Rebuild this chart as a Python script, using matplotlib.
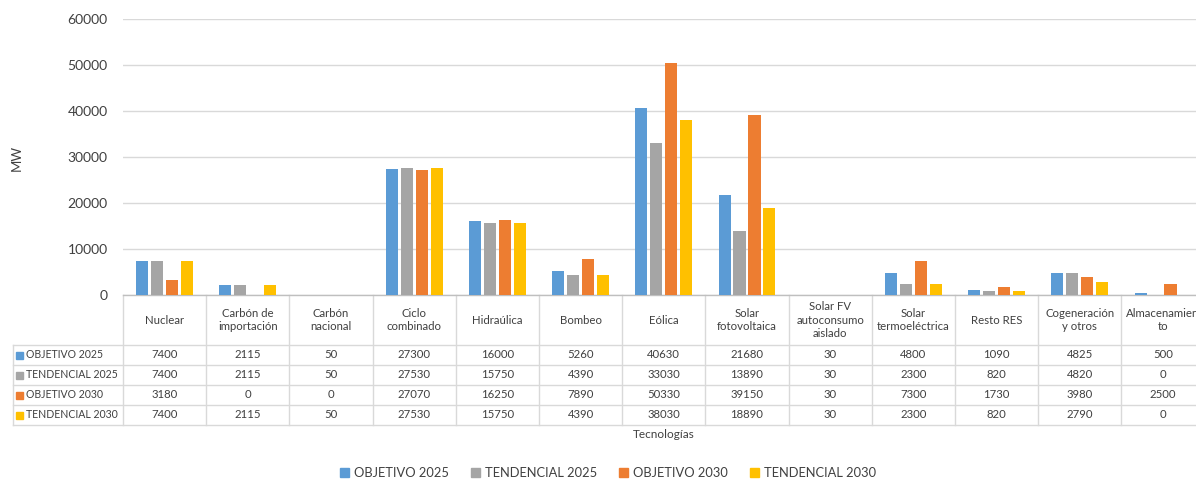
import matplotlib
matplotlib.use("Agg")
import matplotlib.pyplot as plt
from matplotlib.transforms import blended_transform_factory
from matplotlib.patches import Rectangle
import numpy as np

categories = ["Nuclear", "Carbón de\nimportación", "Carbón\nnacional", "Ciclo\ncombinado",
              "Hidraúlica", "Bombeo", "Eólica", "Solar\nfotovoltaica",
              "Solar FV\nautoconsumo\naislado", "Solar\ntermoeléctrica", "Resto RES",
              "Cogeneración\ny otros", "Almacenamien\nto"]
series_names = ["OBJETIVO 2025", "TENDENCIAL 2025", "OBJETIVO 2030", "TENDENCIAL 2030"]
objetivo_2025 = [7400, 2115, 50, 27300, 16000, 5260, 40630, 21680, 30, 4800, 1090, 4825, 500]
tendencial_2025 = [7400, 2115, 50, 27530, 15750, 4390, 33030, 13890, 30, 2300, 820, 4820, 0]
objetivo_2030 = [3180, 0, 0, 27070, 16250, 7890, 50330, 39150, 30, 7300, 1730, 3980, 2500]
tendencial_2030 = [7400, 2115, 50, 27530, 15750, 4390, 38030, 18890, 30, 2300, 820, 2790, 0]
y_ticks = [0, 10000, 20000, 30000, 40000, 50000, 60000]

series = [objetivo_2025, tendencial_2025, objetivo_2030, tendencial_2030]
colors = ["#5B9BD5", "#A5A5A5", "#ED7D31", "#FFC000"]

FONT = "Lato"
TXT = "#404040"
GRID = "#D9D9D9"

W, H = 1196, 480
fig = plt.figure(figsize=(W / 100, H / 100), dpi=100)

cell_w = 83.2
ax_left, ax_top, ax_bottom = 123, 19, 295
n = len(categories)
ax = fig.add_axes([ax_left / W, (H - ax_bottom) / H, n * cell_w / W, (ax_bottom - ax_top) / H])

x = np.arange(n)
bw = 0.145
offsets = [-0.27, -0.09, 0.09, 0.27]
for vals, c, off in zip(series, colors, offsets):
    ax.bar(x + off, vals, width=bw, color=c, zorder=3)

ax.set_xlim(-0.5, n - 0.5)
ax.set_ylim(0, 60000)
ax.set_yticks(y_ticks)
ax.set_yticklabels([str(v) for v in y_ticks], fontfamily=FONT, fontsize=10, color=TXT)
ax.tick_params(axis="y", length=0, pad=11)
ax.set_xticks([])
ax.grid(axis="y", color=GRID, lw=1, zorder=0)
for s in ["top", "right", "left"]:
    ax.spines[s].set_visible(False)
ax.spines["bottom"].set_color("#BFBFBF")
ax.spines["bottom"].set_linewidth(1)

fig.text(17 / W, 1 - 158 / H, "MW", rotation=90, ha="center", va="center",
         fontfamily=FONT, fontsize=9.5, color=TXT)

# data table
tr = blended_transform_factory(ax.transData, ax.transAxes)
axh = ax_bottom - ax_top

def yfrac(py):
    return (ax_bottom - py) / axh

row_lines = [345, 365, 385, 405, 425]
table_bottom = 425
for i in range(n + 1):
    xb = i - 0.5
    ax.plot([xb, xb], [yfrac(ax_bottom), yfrac(table_bottom)], transform=tr,
            color=GRID, lw=1, clip_on=False)
trx = blended_transform_factory(fig.transFigure, ax.transAxes)
for py in row_lines:
    ax.plot([13 / W, 1.2], [yfrac(py), yfrac(py)], transform=trx,
            color=GRID, lw=1, clip_on=False)
ax.plot([13 / W, 13 / W], [yfrac(345), yfrac(425)], transform=trx,
        color=GRID, lw=1, clip_on=False)

for i, cat in enumerate(categories):
    ax.text(i, yfrac(320), cat, transform=tr, ha="center", va="center",
            fontfamily=FONT, fontsize=8.2, color=TXT, linespacing=1.25, clip_on=False)

for r, (name, vals, c) in enumerate(zip(series_names, series, colors)):
    yc = yfrac((row_lines[r] + row_lines[r + 1]) / 2)
    ax.add_patch(Rectangle((16 / W, yc - 3.5 / axh), 7 / W, 7 / axh, transform=trx,
                           color=c, clip_on=False))
    ax.text(26 / W, yc, name, transform=trx, ha="left", va="center",
            fontfamily=FONT, fontsize=7.6, color=TXT, clip_on=False)
    for i, v in enumerate(vals):
        ax.text(i, yc, str(v), transform=tr, ha="center", va="center",
                fontfamily=FONT, fontsize=8.2, color=TXT, clip_on=False)

fig.text(664 / W, 1 - 435 / H, "Tecnologías", ha="center", va="center",
         fontfamily=FONT, fontsize=8.5, color=TXT)

handles = [Rectangle((0, 0), 1, 1, color=c) for c in colors]
leg = fig.legend(handles, series_names, loc="center", bbox_to_anchor=(608 / W, 1 - 473 / H),
                 ncol=4, frameon=False, prop={"family": FONT, "size": 9.3},
                 handlelength=0.7, handleheight=0.7, handletextpad=0.4, columnspacing=1.7,
                 borderpad=0, borderaxespad=0)
for t in leg.get_texts():
    t.set_color(TXT)

fig.savefig("out.png", dpi=100)
